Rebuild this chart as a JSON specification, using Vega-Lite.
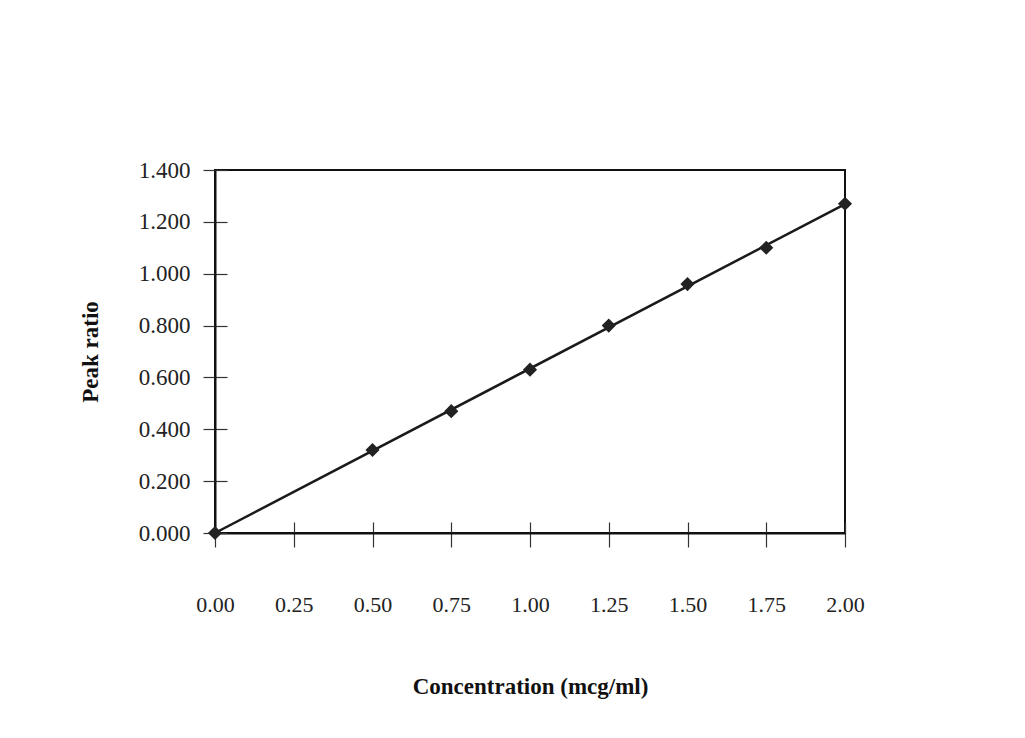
{
  "$schema": "https://vega.github.io/schema/vega-lite/v6.json",
  "autosize": "none",
  "width": 630,
  "height": 363,
  "padding": {"left": 215, "top": 170, "right": 180, "bottom": 205},
  "background": "white",
  "config": {
    "view": {"stroke": "#111", "strokeWidth": 2},
    "axis": {"grid": false, "labelFont": "Liberation Serif", "titleFont": "Liberation Serif", "labelColor": "#222", "titleColor": "#111", "domainColor": "#111", "tickColor": "#333", "domainWidth": 2, "tickWidth": 1.2}
  },
  "data": {"values": [
    {"conc": 0.0, "ratio": 0.0},
    {"conc": 0.5, "ratio": 0.32},
    {"conc": 0.75, "ratio": 0.47},
    {"conc": 1.0, "ratio": 0.63},
    {"conc": 1.25, "ratio": 0.80},
    {"conc": 1.5, "ratio": 0.96},
    {"conc": 1.75, "ratio": 1.10},
    {"conc": 2.0, "ratio": 1.27}
  ]},
  "resolve": {"axis": {"x": "independent", "y": "independent"}},
  "layer": [
    {
      "transform": [{"regression": "ratio", "on": "conc", "extent": [0, 2]}],
      "mark": {"type": "line", "color": "#1a1a1a", "strokeWidth": 2.5},
      "encoding": {
        "x": {"field": "conc", "type": "quantitative", "scale": {"domain": [0, 2], "nice": false, "zero": true},
          "axis": {"orient": "bottom", "title": null, "labels": false, "domain": false, "values": [0, 0.25, 0.5, 0.75, 1, 1.25, 1.5, 1.75, 2], "tickSize": -11}},
        "y": {"field": "ratio", "type": "quantitative", "scale": {"domain": [0, 1.4], "nice": false},
          "axis": {"orient": "left", "title": null, "labels": false, "domain": false, "values": [0, 0.2, 0.4, 0.6, 0.8, 1.0, 1.2, 1.4], "tickSize": -12}}
      }
    },
    {
      "mark": {"type": "point", "shape": "diamond", "filled": true, "color": "#222", "size": 200, "opacity": 1},
      "encoding": {
        "x": {"field": "conc", "type": "quantitative", "scale": {"domain": [0, 2], "nice": false, "zero": true},
          "axis": {"orient": "bottom", "title": "Concentration (mcg/ml)", "values": [0, 0.25, 0.5, 0.75, 1, 1.25, 1.5, 1.75, 2], "format": ".2f", "labelFlush": false, "labelFontSize": 22, "titleFontSize": 23, "titleFontWeight": "bold", "tickSize": 14, "labelPadding": 47, "titlePadding": 60}},
        "y": {"field": "ratio", "type": "quantitative", "scale": {"domain": [0, 1.4], "nice": false},
          "axis": {"orient": "left", "title": "Peak ratio", "values": [0, 0.2, 0.4, 0.6, 0.8, 1.0, 1.2, 1.4], "format": ".3f", "labelFlush": false, "labelFontSize": 23, "titleFontSize": 23, "titleFontWeight": "bold", "tickSize": 12, "labelPadding": 13, "titlePadding": 36}}
      }
    }
  ]
}
